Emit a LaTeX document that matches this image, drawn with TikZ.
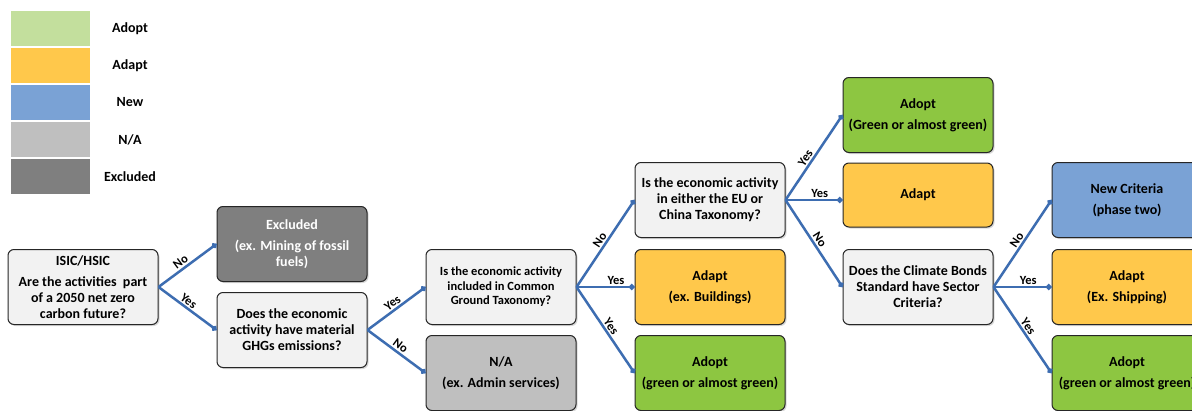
\documentclass[tikz,border=0pt]{standalone}
\usepackage{fontspec}
\setmainfont{Carlito}
\usetikzlibrary{arrows.meta,shadows}

\definecolor{adoptlight}{HTML}{C3DF9D}
\definecolor{adoptgreen}{HTML}{8DC641}
\definecolor{adaptorange}{HTML}{FFC84B}
\definecolor{newblue}{HTML}{7AA2D5}
\definecolor{nagray}{HTML}{BFBFBF}
\definecolor{exgray}{HTML}{7F7F7F}
\definecolor{askgray}{HTML}{F2F2F2}
\definecolor{linkblue}{HTML}{3D6DB1}
\definecolor{edgegray}{HTML}{262626}

\begin{document}
\begin{tikzpicture}[x=1pt, y=-1pt,
	box/.style = {draw=edgegray, line width=1pt, rounded corners=6pt,
		minimum width=150pt, minimum height=75pt, inner xsep=2pt, align=center,
		font=\fontsize{14}{16}\selectfont\bfseries,
		drop shadow={shadow xshift=1.5pt, shadow yshift=-1.5pt, opacity=0.3}},
	ask/.style = {box, fill=askgray},
	adopt/.style = {box, fill=adoptgreen},
	adapt/.style = {box, fill=adaptorange},
	link/.style = {draw=linkblue, line width=2.5pt, -{Circle[length=5.5pt]}},
	tag/.style = {font=\fontsize{12.5}{13}\selectfont\bfseries, sloped, above, inner sep=1.5pt}]
	\path[use as bounding box, clip] (0,0) rectangle (1192,410);
	\fill[white] (0,0) rectangle (1192,410);
	% legend
	\foreach \col/\txt [count=\i] in {adoptlight/Adopt, adaptorange/Adapt, newblue/New, nagray/{N/A}, exgray/Excluded} {
		\node[fill=\col, minimum width=79pt, minimum height=35pt] (key\i) at (50.5,{28.5+37*(\i-1)}) {};
		\node[font=\fontsize{14}{16}\selectfont\bfseries] (keytxt\i) at (130,{28.5+37*(\i-1)}) {\txt};
	}
	% boxes
	\node[ask] (isic) at (83,287) {ISIC/HSIC\\[5pt]Are the activities\ \ part\\of a 2050 net zero\\carbon future?};
	\node[box, fill=exgray, text=white] (excl) at (292,244) {Excluded\\[5pt](ex. Mining of fossil\\fuels)};
	\node[ask] (ghg) at (292,330) {Does the economic\\activity have material\\GHGs emissions?};
	\node[ask, font=\fontsize{12.5}{14.5}\selectfont\bfseries] (cg) at (501,287) {Is the economic activity\\included in Common\\Ground Taxonomy?};
	\node[box, fill=nagray] (na) at (501,373) {N/A\\[5pt](ex. Admin services)};
	\node[ask] (eu) at (710,200) {Is the economic activity\\in either the EU or\\China Taxonomy?};
	\node[adapt] (adaptb) at (710,287) {Adapt\\[5pt](ex. Buildings)};
	\node[adopt] (adopta) at (710,373) {Adopt\\[5pt](green or almost green)};
	\node[adopt] (adoptb) at (918,115) {Adopt\\[5pt](Green or almost green)};
	\node[adapt, minimum height=64pt] (adapta) at (918,195) {Adapt};
	\node[ask] (cbs) at (918,287) {Does the Climate Bonds\\Standard have Sector\\Criteria?};
	\node[box, fill=newblue] (newc) at (1127,200) {New Criteria\\[5pt](phase two)};
	\node[adapt] (adaptc) at (1127,287) {Adapt\\[5pt](Ex. Shipping)};
	\node[adopt] (adoptc) at (1127,373) {Adopt\\[5pt](green or almost green)};
	% connectors
	\draw[link] (isic.east) -- node[tag, pos=0.45] {No} (excl.west);
	\draw[link] (isic.east) -- node[tag, pos=0.45] {Yes} (ghg.west);
	\draw[link] (ghg.east) -- node[tag] {Yes} (cg.west);
	\draw[link] (ghg.east) -- node[tag] {No} (na.west);
	\draw[link] (cg.east) -- node[tag] {No} (eu.west);
	\draw[link] (cg.east) -- node[tag, pos=0.68] {Yes} (adaptb.west);
	\draw[link] (cg.east) -- node[tag] {Yes} (adopta.west);
	\draw[link] (eu.east) -- node[tag, pos=0.45] {Yes} (adoptb.west);
	\draw[link] (eu.east) -- node[tag, pos=0.6] {Yes} (eu.east -| adapta.west);
	\draw[link] (eu.east) -- node[tag] {No} (cbs.west);
	\draw[link] (cbs.east) -- node[tag] {No} (newc.west);
	\draw[link] (cbs.east) -- node[tag, pos=0.6] {Yes} (adaptc.west);
	\draw[link] (cbs.east) -- node[tag] {Yes} (adoptc.west);
\end{tikzpicture}
\end{document}
